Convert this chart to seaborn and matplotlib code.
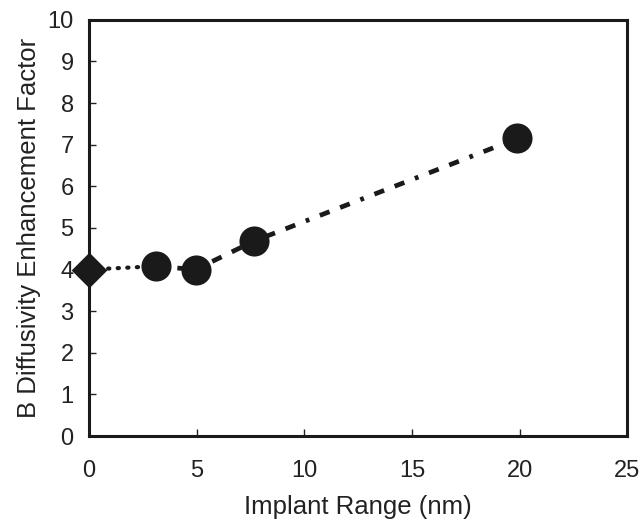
import matplotlib
matplotlib.use("Agg")
import matplotlib.pyplot as plt
import seaborn as sns
import pandas as pd

# data
range_nm = [3.1, 4.95, 7.65, 19.9]
enhancement = [4.08, 4.0, 4.68, 7.15]
ref_x = [0.0]
ref_y = [4.0]
link_x = [0.0, 3.1]
link_y = [4.0, 4.08]
xticks = [0, 5, 10, 15, 20, 25]
yticks = list(range(0, 11))

sns.set_style("ticks")
plt.rcParams['font.family'] = ['Liberation Sans', 'DejaVu Sans']

fig = plt.figure(figsize=(6.4, 5.21), dpi=100)
ax = fig.add_axes([0.139, 0.163, 0.841, 0.799])

df = pd.DataFrame({"x": range_nm, "y": enhancement})
dl = pd.DataFrame({"x": link_x, "y": link_y})

sns.lineplot(data=dl, x="x", y="y", ax=ax, color="#1a1a1a", lw=3,
             linestyle=(0, (0.3, 2.0)), dash_capstyle="round", zorder=2)
sns.lineplot(data=df, x="x", y="y", ax=ax, color="#1a1a1a", lw=3.4, zorder=2)
ax.lines[-1].set_dashes([2.2, 2.4, 2.2, 2.4, 0.8, 2.4])
sns.scatterplot(x=range_nm, y=enhancement, ax=ax, s=470, color="#1a1a1a",
                edgecolor="#1a1a1a", linewidth=0, zorder=3)
sns.scatterplot(x=ref_x, y=ref_y, ax=ax, marker="D", s=330, color="#1a1a1a",
                edgecolor="#1a1a1a", linewidth=0, zorder=4, clip_on=False)
for c in ax.collections:
    c.set_clip_on(False)

ax.set_xlim(0, 25)
ax.set_ylim(0, 10)
ax.set_xticks(xticks)
ax.set_yticks(yticks)
ax.tick_params(direction="in", length=5, width=1, labelsize=17, colors="#222222")
ax.tick_params(axis="y", pad=11)
ax.tick_params(axis="x", pad=17)
for s in ax.spines.values():
    s.set_linewidth(2.2)
    s.set_color("#1a1a1a")
    s.set_visible(True)
ax.set_xlabel("Implant Range (nm)", fontsize=18.5, color="#222222", va="baseline")
ax.set_ylabel("B Diffusivity Enhancement Factor", fontsize=18.5, color="#222222")
ax.xaxis.set_label_coords(0.5, -0.1875)
ax.yaxis.set_label_coords(-0.089, 0.5)

fig.savefig("out.png", dpi=100)
